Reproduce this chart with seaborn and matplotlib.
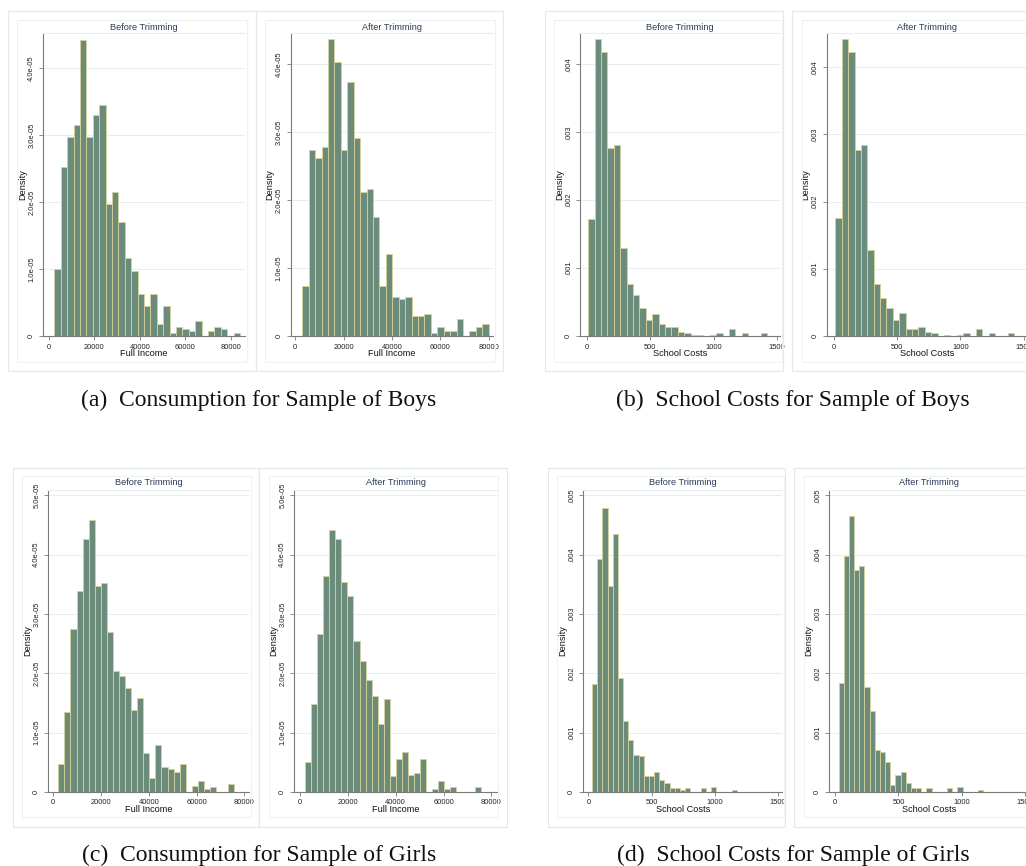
import numpy as np
import pandas as pd
import matplotlib
matplotlib.use("Agg")
import matplotlib.pyplot as plt
import seaborn as sns
from matplotlib.patches import Rectangle

sns.set_theme(style="ticks")
plt.rcParams['font.family'] = ['Liberation Sans', 'DejaVu Sans']

# ---------------- data (bin densities) ----------------
# Full income, boys (density in units of 1e-5)
boys_income_before = [1.00, 2.53, 2.98, 3.16, 4.43, 2.98, 3.30, 3.46, 1.97, 2.16,
                      1.71, 1.16, 0.97, 0.63, 0.45, 0.63, 0.18, 0.45, 0.04, 0.14,
                      0.11, 0.07, 0.22, 0.00, 0.07, 0.14, 0.11, 0.00, 0.04]
boys_income_before_bins = (2490, 2813)      # first edge, bin width
boys_income_after = [0.74, 2.74, 2.62, 2.78, 4.36, 4.03, 2.74, 3.74, 2.91, 2.12,
                     2.16, 1.75, 0.74, 1.21, 0.58, 0.54, 0.58, 0.29, 0.29, 0.33,
                     0.04, 0.13, 0.08, 0.08, 0.25, 0.00, 0.08, 0.13, 0.17]
boys_income_after_bins = (2900, 2660)

# School costs, boys (density in units of 1e-3)
boys_cost_before = [1.72, 4.37, 4.18, 2.77, 2.81, 1.29, 0.77, 0.60, 0.41, 0.23,
                    0.32, 0.18, 0.13, 0.13, 0.06, 0.04, 0.02, 0.02, 0.00, 0.02,
                    0.04, 0.00, 0.10, 0.00, 0.04, 0.00, 0.00, 0.04]
boys_cost_before_bins = (10, 50.5)
boys_cost_after = [1.76, 4.42, 4.22, 2.77, 2.84, 1.28, 0.77, 0.57, 0.41, 0.24,
                   0.34, 0.11, 0.11, 0.13, 0.06, 0.04, 0.00, 0.02, 0.00, 0.02,
                   0.04, 0.00, 0.10, 0.00, 0.04, 0.00, 0.00, 0.04]
boys_cost_after_bins = (13, 50.5)

# Full income, girls (1e-5)
girls_income_before = [0.47, 1.34, 2.74, 3.38, 4.27, 4.59, 3.48, 3.52, 2.69, 2.04,
                       1.95, 1.76, 1.39, 1.58, 0.65, 0.24, 0.79, 0.42, 0.38, 0.33,
                       0.47, 0.00, 0.10, 0.19, 0.05, 0.09, 0.00, 0.00, 0.14]
girls_income_before_bins = (2095, 2542)
girls_income_after = [0.50, 1.48, 2.67, 3.64, 4.42, 4.27, 3.54, 3.31, 2.54, 2.20,
                      1.88, 1.61, 1.14, 1.57, 0.27, 0.56, 0.68, 0.28, 0.32, 0.56,
                      0.00, 0.05, 0.19, 0.05, 0.09, 0.00, 0.00, 0.00, 0.09]
girls_income_after_bins = (2090, 2532)

# School costs, girls (1e-3)
girls_cost_before = [1.82, 3.92, 4.79, 3.48, 4.34, 1.92, 1.19, 0.87, 0.63, 0.61,
                     0.27, 0.27, 0.33, 0.21, 0.16, 0.06, 0.06, 0.03, 0.06, 0.00,
                     0.00, 0.06, 0.00, 0.09, 0.00, 0.00, 0.00, 0.03]
girls_cost_before_bins = (29, 40.9)
girls_cost_after = [1.83, 3.98, 4.66, 3.74, 3.81, 1.77, 1.36, 0.71, 0.68, 0.50,
                    0.12, 0.29, 0.33, 0.15, 0.07, 0.07, 0.00, 0.06, 0.00, 0.00,
                    0.00, 0.06, 0.00, 0.09, 0.00, 0.00, 0.00, 0.03]
girls_cost_after_bins = (26, 40.9)

income_ticks = [0, 20000, 40000, 60000, 80000]
cost_ticks = [0, 500, 1000, 1500]
income_yticks_boys = [0, 1e-5, 2e-5, 3e-5, 4e-5]
income_ylabels_boys = ["0", "1.0e-05", "2.0e-05", "3.0e-05", "4.0e-05"]
income_yticks_girls = [0, 1e-5, 2e-5, 3e-5, 4e-5, 5e-5]
income_ylabels_girls = ["0", "1.0e-05", "2.0e-05", "3.0e-05", "4.0e-05", "5.0e-05"]
cost_yticks_boys = [0, .001, .002, .003, .004]
cost_ylabels_boys = ["0", ".001", ".002", ".003", ".004"]
cost_yticks_girls = [0, .001, .002, .003, .004, .005]
cost_ylabels_girls = ["0", ".001", ".002", ".003", ".004", ".005"]

captions = ["(a)  Consumption for Sample of Boys",
            "(b)  School Costs for Sample of Boys",
            "(c)  Consumption for Sample of Girls",
            "(d)  School Costs for Sample of Girls"]

# ---------------- style ----------------
FILL = '#6B8B7B'
EDGE = '#D6D29A'
GRID = '#E8EEF0'
AXC = '#7A7A7A'
TITLEC = '#2A3A58'
OUTER = '#E2E9EB'
INNER = '#EDF2F3'

W, H = 1026, 866
fig = plt.figure(figsize=(W / 100, H / 100), dpi=100)
fig.patch.set_facecolor('white')


def frame(x0, y0, x1, y1, color):
    fig.patches.append(Rectangle((x0 / W, 1 - y1 / H), (x1 - x0) / W, (y1 - y0) / H,
                                 transform=fig.transFigure, fill=False,
                                 edgecolor=color, linewidth=0.8, zorder=0))


def panel(axbox, outer, inner, title_y, title, heights, bins, scale, xlim, ylim,
          xticks, yticks, ylabels, xlabel):
    x0, x1, yt, yb = axbox
    frame(outer[0], outer[1], outer[2], outer[3], OUTER)
    frame(inner[0], inner[1], inner[2], inner[3], INNER)
    ax = fig.add_axes([x0 / W, 1 - yb / H, (x1 - x0) / W, (yb - yt) / H])
    start, width = bins
    edges = start + width * np.arange(len(heights) + 1)
    centers = (edges[:-1] + edges[1:]) / 2
    df = pd.DataFrame({'x': centers, 'w': np.asarray(heights) * scale})
    sns.histplot(data=df, x='x', weights='w', bins=[float(e) for e in edges],
                 stat='count', ax=ax, color=FILL, edgecolor=EDGE,
                 linewidth=0.6, alpha=1)
    for p in list(ax.patches):
        if p.get_height() <= 0:
            p.remove()
    ax.set_xlim(*xlim)
    ax.set_ylim(*ylim)
    ax.set_xticks(xticks)
    ax.set_xticklabels([str(t) for t in xticks])
    ax.set_yticks(yticks)
    ax.set_yticklabels(ylabels, rotation=90, va='center')
    ax.tick_params(axis='both', length=3, width=0.6, color=AXC, labelsize=5.4,
                   labelcolor='#222222', bottom=True, left=True)
    ax.tick_params(axis='x', pad=2.4)
    ax.tick_params(axis='y', pad=2.8)
    ax.yaxis.grid(True, color=GRID, linewidth=0.8)
    ax.set_axisbelow(True)
    for s in ['left', 'bottom']:
        ax.spines[s].set_color(AXC)
        ax.spines[s].set_linewidth(0.8)
    ax.spines['top'].set_color(GRID)
    ax.spines['top'].set_linewidth(0.8)
    ax.spines['right'].set_visible(False)
    ax.set_facecolor('white')
    ax.set_xlabel(xlabel, fontsize=6.6, labelpad=-0.8, color='#111111')
    ax.set_ylabel('Density', fontsize=6.6, labelpad=0.8, color='#111111')
    fig.text((x0 + x1) / 2 / W, 1 - title_y / H, title, fontsize=6.6,
             color=TITLEC, ha='center', va='center')
    return ax


TOP = dict(yt=33.3, yb=336, oy=(11, 370.5), iy=(20, 361.5), ty=27)
BOT = dict(yt=490, yb=792, oy=(467.5, 826.7), iy=(476.3, 817.3), ty=482.7)


def row_panel(row, ax_x, out_x, in_x, title, heights, bins, scale, xlim, ylim,
              xticks, yticks, ylabels, xlabel):
    return panel((ax_x[0], ax_x[1], row['yt'], row['yb']),
                 (out_x[0], row['oy'][0], out_x[1], row['oy'][1]),
                 (in_x[0], row['iy'][0], in_x[1], row['iy'][1]),
                 row['ty'], title, heights, bins, scale, xlim, ylim,
                 xticks, yticks, ylabels, xlabel)


# (a)
row_panel(TOP, (43.3, 245), (8, 255.5), (17.3, 247), "Before Trimming",
          boys_income_before, boys_income_before_bins, 1e-5, (-2370, 86290), (0, 4.525e-5),
          income_ticks, income_yticks_boys, income_ylabels_boys, "Full Income")
row_panel(TOP, (290.7, 492.7), (255.5, 502.5), (265, 494.5), "After Trimming",
          boys_income_after, boys_income_after_bins, 1e-5, (-1900, 81670), (0, 4.45e-5),
          income_ticks, income_yticks_boys, income_ylabels_boys, "Full Income")
# (b)
row_panel(TOP, (580, 780), (545, 783), (554, 781.5), "Before Trimming",
          boys_cost_before, boys_cost_before_bins, 1e-3, (-55, 1523), (0, 4.458e-3),
          cost_ticks, cost_yticks_boys, cost_ylabels_boys, "School Costs")
row_panel(TOP, (826.7, 1026.6), (792, 1040), (802, 1035), "After Trimming",
          boys_cost_after, boys_cost_after_bins, 1e-3, (-55, 1523), (0, 4.505e-3),
          cost_ticks, cost_yticks_boys, cost_ylabels_boys, "School Costs")
# (c)
row_panel(BOT, (48.3, 249.3), (13.3, 259.3), (22.3, 251), "Before Trimming",
          girls_income_before, girls_income_before_bins, 1e-5, (-2094, 82080), (0, 5.09e-5),
          income_ticks, income_yticks_girls, income_ylabels_girls, "Full Income")
row_panel(BOT, (294.3, 496.7), (259.3, 506.7), (269.3, 498), "After Trimming",
          girls_income_after, girls_income_after_bins, 1e-5, (-2380, 82230), (0, 5.09e-5),
          income_ticks, income_yticks_girls, income_ylabels_girls, "Full Income")
# (d)
row_panel(BOT, (583.3, 782), (548.3, 785), (557.3, 783.5), "Before Trimming",
          girls_cost_before, girls_cost_before_bins, 1e-3, (-40, 1533), (0, 5.09e-3),
          cost_ticks, cost_yticks_girls, cost_ylabels_girls, "School Costs")
row_panel(BOT, (829.3, 1028.9), (794.3, 1040), (804.3, 1035), "After Trimming",
          girls_cost_after, girls_cost_after_bins, 1e-3, (-47.5, 1533), (0, 5.09e-3),
          cost_ticks, cost_yticks_girls, cost_ylabels_girls, "School Costs")

# captions
for (cx, cy), txt in zip([(259, 400), (793, 400), (259.5, 855), (793.5, 855)], captions):
    fig.text(cx / W, 1 - cy / H, txt, fontsize=17, family='Liberation Serif',
             ha='center', va='center', color='#111111')

fig.savefig('out.png', dpi=100, facecolor='white')
